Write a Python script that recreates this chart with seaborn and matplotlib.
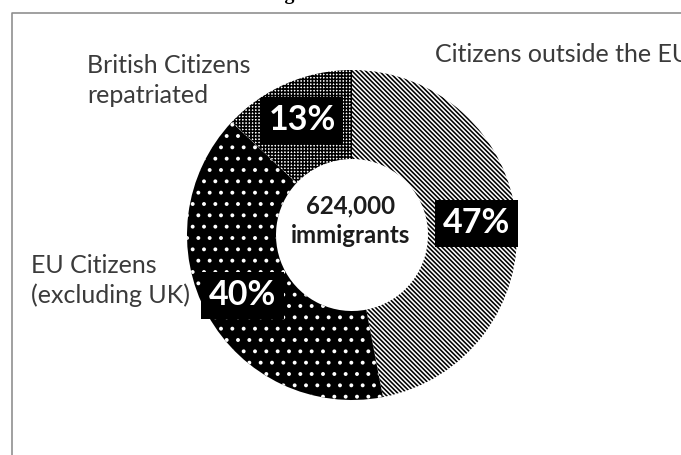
import matplotlib
matplotlib.use("Agg")
import matplotlib.pyplot as plt
import pandas as pd
import seaborn as sns

# --- data -------------------------------------------------------------
categories = ["Citizens outside the EU",
              "EU Citizens\n(excluding UK)",
              "British Citizens\nrepatriated"]
shares = [47, 40, 13]
centre_lines = ["624,000", "immigrants"]
title = "Immigration"

# --- canvas (pixel coordinates, y measured from the top) --------------
W, H, DPI = 681, 455, 136


def pt(px):
    return px * 72 / DPI


def Y(py):
    return H - py


sns.set_theme(style="white")
plt.rcParams["font.family"] = ["Lato", "DejaVu Sans"]
plt.rcParams["hatch.linewidth"] = 0.85

fig = plt.figure(figsize=(W / DPI, H / DPI), dpi=DPI, facecolor="white")
ax = fig.add_axes([0, 0, 1, 1])

df = pd.DataFrame({"category": categories, "share": shares})

# wedge styling: face colour, hatch colour, hatch pattern
faces = ["white", "black", "white"]
hatch_colours = ["black", "white", "black"]
hatches = ["\\" * 10, "..", "+" * 7]

cx, cy, r_out, r_in = 352, 235, 165, 76
wedges, _, pct_texts = ax.pie(
    df["share"],
    startangle=90,
    counterclock=False,
    center=(cx, Y(cy)),
    radius=r_out,
    autopct="%.0f%%",
    pctdistance=125 / r_out,
    wedgeprops=dict(width=r_out - r_in, linewidth=0),
    textprops=dict(color="white", fontsize=pt(34), fontweight="bold"),
)
for w, fc, ec, h in zip(wedges, faces, hatch_colours, hatches):
    w.set_facecolor(fc)
    w.set_edgecolor(ec)
    w.set_hatch(h)
    w.set_linewidth(0)

for t in pct_texts:
    t.set_bbox(dict(boxstyle="square,pad=0.22", facecolor="black",
                    edgecolor="none"))

# category captions, left aligned, first-line baseline given
caption_xy = [(435, 62), (31, 273), (87, 73)]
line_pitch = 30
for text, (x, y) in zip(df["category"], caption_xy):
    for i, line in enumerate(text.split("\n")):
        ax.text(x, Y(y + i * line_pitch), line, ha="left", va="baseline",
                fontsize=pt(25), color="#3b3b3b")

# total in the hole
for i, line in enumerate(centre_lines):
    ax.text(351, Y(213 + i * 30), line, ha="center", va="baseline",
            fontsize=pt(24), fontweight="bold", color="#1c1c1c")

# chart frame (left and top edges)
ax.plot([11.5, 11.5, W + 5], [Y(H + 5), Y(12.5), Y(12.5)],
        color="#8c8c8c", lw=pt(1.6), clip_on=False, zorder=0)

# title sitting above the frame
ax.text(238, Y(-1), title, ha="left", va="baseline", fontsize=pt(20),
        fontweight="bold", family=["Liberation Serif", "DejaVu Serif"],
        color="black")

ax.set_xlim(0, W)
ax.set_ylim(0, H)
ax.set_aspect("auto")
ax.axis("off")

fig.savefig("out.png", dpi=DPI, facecolor="white")
